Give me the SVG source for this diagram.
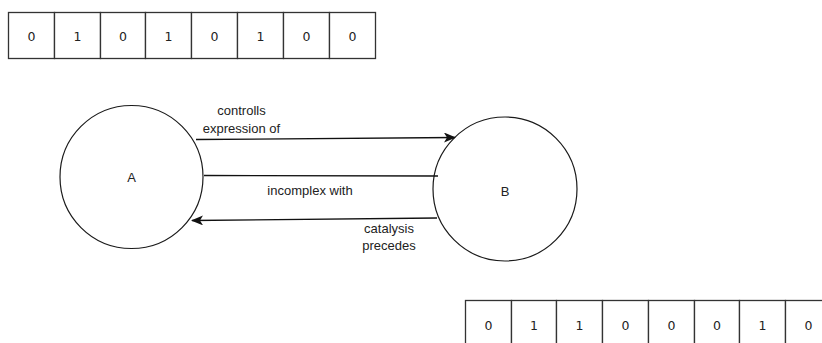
<svg xmlns="http://www.w3.org/2000/svg" width="822" height="343" viewBox="0 0 822 343">
  <style>
    .cell { fill: #ffffff; stroke: #333333; stroke-width: 1.3; }
    .bit { font-family: "DejaVu Sans", Verdana, sans-serif; font-size: 12.5px; fill: #222222; text-anchor: middle; dominant-baseline: central; }
    .node { fill: #ffffff; stroke: #1a1a1a; stroke-width: 1.2; }
    .lbl { font-family: "Liberation Sans", Arial, sans-serif; font-size: 13px; fill: #222222; text-anchor: middle; dominant-baseline: central; }
    .edge { fill: none; stroke: #111111; stroke-width: 1.3; }
  </style>
  <defs>
    <marker id="arrow" viewBox="0 0 12 10" refX="11" refY="5" markerWidth="12" markerHeight="10" markerUnits="userSpaceOnUse" orient="auto">
      <path d="M0,0 L12,5 L0,10 L3,5 Z" fill="#111111"/>
    </marker>
  </defs>
  <rect width="822" height="343" fill="#ffffff"/>

  <!-- top bit array -->
  <g id="array-top">
    <rect class="cell" x="8.5" y="12.5" width="46" height="46"/>
    <rect class="cell" x="54.5" y="12.5" width="46" height="46"/>
    <rect class="cell" x="100.5" y="12.5" width="45" height="46"/>
    <rect class="cell" x="145.5" y="12.5" width="46" height="46"/>
    <rect class="cell" x="191.5" y="12.5" width="46" height="46"/>
    <rect class="cell" x="237.5" y="12.5" width="46" height="46"/>
    <rect class="cell" x="283.5" y="12.5" width="46" height="46"/>
    <rect class="cell" x="329.5" y="12.5" width="46" height="46"/>
    <text class="bit" x="31.5" y="36">0</text>
    <text class="bit" x="77.5" y="36">1</text>
    <text class="bit" x="123" y="36">0</text>
    <text class="bit" x="168.5" y="36">1</text>
    <text class="bit" x="214.5" y="36">0</text>
    <text class="bit" x="260.5" y="36">1</text>
    <text class="bit" x="306.5" y="36">0</text>
    <text class="bit" x="352.5" y="36">0</text>
  </g>

  <!-- bottom bit array -->
  <g id="array-bottom">
    <rect class="cell" x="465.5" y="300.5" width="46" height="46"/>
    <rect class="cell" x="511.5" y="300.5" width="45" height="46"/>
    <rect class="cell" x="556.5" y="300.5" width="46" height="46"/>
    <rect class="cell" x="602.5" y="300.5" width="46" height="46"/>
    <rect class="cell" x="648.5" y="300.5" width="46" height="46"/>
    <rect class="cell" x="694.5" y="300.5" width="45" height="46"/>
    <rect class="cell" x="739.5" y="300.5" width="46" height="46"/>
    <rect class="cell" x="785.5" y="300.5" width="46" height="46"/>
    <text class="bit" x="488.5" y="325">0</text>
    <text class="bit" x="534" y="325">1</text>
    <text class="bit" x="579.5" y="325">1</text>
    <text class="bit" x="625.5" y="325">0</text>
    <text class="bit" x="671.5" y="325">0</text>
    <text class="bit" x="717" y="325">0</text>
    <text class="bit" x="762.5" y="325">1</text>
    <text class="bit" x="808.5" y="325">0</text>
  </g>

  <!-- nodes -->
  <g id="node-a">
    <circle class="node" cx="131.5" cy="177" r="71.5"/>
    <text class="lbl" x="131.5" y="177">A</text>
  </g>
  <g id="node-b">
    <circle class="node" cx="505" cy="189" r="72"/>
    <text class="lbl" x="505" y="191">B</text>
  </g>

  <!-- connectors -->
  <g id="edges">
    <line class="edge" x1="196" y1="139.5" x2="455" y2="137.5" marker-end="url(#arrow)"/>
    <line class="edge" x1="204" y1="175.5" x2="438" y2="176"/>
    <line class="edge" x1="437" y1="218" x2="192" y2="220.5" marker-end="url(#arrow)"/>
    <text class="lbl" x="241.5" y="110">controlls</text>
    <text class="lbl" x="241.5" y="128">expression of</text>
    <text class="lbl" x="310" y="190">incomplex with</text>
    <text class="lbl" x="389" y="228">catalysis</text>
    <text class="lbl" x="389" y="245">precedes</text>
  </g>
</svg>
